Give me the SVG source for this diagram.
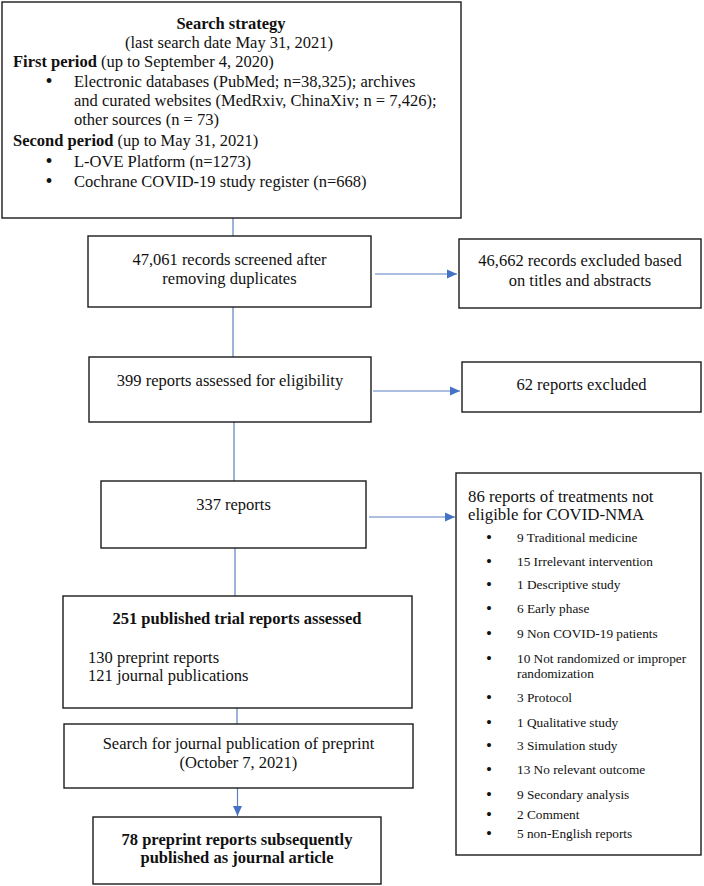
<svg xmlns="http://www.w3.org/2000/svg" width="704" height="886" viewBox="0 0 704 886">
<style>
.box{fill:#fff;stroke:#1a1a1a;stroke-width:1.4}
.t{font-family:"Liberation Serif","Times New Roman",serif;font-size:16.5px;fill:#111}
.b{font-weight:bold}
.c{text-anchor:middle}
.s{font-size:13.3px}
.h{font-size:16.8px}
.bu{font-family:"Liberation Serif","Times New Roman",serif;font-size:20px;fill:#111;text-anchor:middle}
.bs{font-family:"Liberation Serif","Times New Roman",serif;font-size:17px;fill:#111;text-anchor:middle}
.ln{stroke:#5a80c4;stroke-width:1.2;fill:none}
</style>
<defs>
<marker id="ah" markerUnits="userSpaceOnUse" markerWidth="11" markerHeight="10" refX="10" refY="5" orient="auto">
<path d="M0,0.5 L10,5 L0,9.5 z" fill="#4472c4"/>
</marker>
</defs>
<rect width="704" height="886" fill="#fff"/>
<g id="connectors">
<line class="ln" x1="233" y1="218" x2="233" y2="236"/>
<line class="ln" x1="233" y1="307" x2="233" y2="357"/>
<line class="ln" x1="234" y1="422" x2="234" y2="481"/>
<line class="ln" x1="235" y1="548" x2="235" y2="596"/>
<line class="ln" x1="237" y1="708" x2="237" y2="724"/>
<line class="ln" x1="237.5" y1="788" x2="237.5" y2="816" marker-end="url(#ah)"/>
<line class="ln" x1="375" y1="274" x2="457" y2="274" marker-end="url(#ah)"/>
<line class="ln" x1="373" y1="391" x2="460" y2="391" marker-end="url(#ah)"/>
<line class="ln" x1="369" y1="517" x2="455" y2="517" marker-end="url(#ah)"/>
</g>
<g id="search">
<rect class="box" x="2" y="2" width="459" height="216"/>
<text class="t b c" x="231" y="29">Search strategy</text>
<text class="t c" x="229" y="48">(last search date May 31, 2021)</text>
<text class="t" x="13" y="67"><tspan font-weight="bold">First period</tspan> (up to September 4, 2020)</text>
<text class="bu" x="49" y="88">•</text>
<text class="t" x="74" y="87">Electronic databases (PubMed; n=38,325); archives</text>
<text class="t" x="74" y="106">and curated websites (MedRxiv, ChinaXiv; n = 7,426);</text>
<text class="t" x="74" y="125">other sources (n = 73)</text>
<text class="t" x="13" y="146"><tspan font-weight="bold">Second period</tspan> (up to May 31, 2021)</text>
<text class="bu" x="49" y="168">•</text>
<text class="t" x="74" y="167">L-OVE Platform (n=1273)</text>
<text class="bu" x="49" y="188">•</text>
<text class="t" x="74" y="187">Cochrane COVID-19 study register (n=668)</text>
</g>
<g id="screened">
<rect class="box" x="88" y="236" width="283" height="71"/>
<text class="t c" x="229.5" y="265">47,061 records screened after</text>
<text class="t c" x="229.5" y="284">removing duplicates</text>
</g>
<g id="excluded1">
<rect class="box" x="459" y="239" width="242" height="69"/>
<text class="t c" x="580" y="266">46,662 records excluded based</text>
<text class="t c" x="580" y="286">on titles and abstracts</text>
</g>
<g id="assessed">
<rect class="box" x="89" y="357" width="282" height="65"/>
<text class="t c" x="230" y="386">399 reports assessed for eligibility</text>
</g>
<g id="excluded2">
<rect class="box" x="462" y="362" width="239" height="50"/>
<text class="t c" x="581.5" y="390">62 reports excluded</text>
</g>
<g id="reports337">
<rect class="box" x="101" y="481" width="265" height="67"/>
<text class="t c" x="233.5" y="510">337 reports</text>
</g>
<g id="noteligible">
<rect class="box" x="456" y="473" width="245" height="382"/>
<text class="t h" x="468" y="502">86 reports of treatments not</text>
<text class="t h" x="468" y="520">eligible for COVID-NMA</text>
<g class="bs">
<text x="489" y="543">•</text>
<text x="489" y="567">•</text>
<text x="489" y="590">•</text>
<text x="489" y="614">•</text>
<text x="489" y="639">•</text>
<text x="489" y="664">•</text>
<text x="489" y="703">•</text>
<text x="489" y="728">•</text>
<text x="489" y="751">•</text>
<text x="489" y="775">•</text>
<text x="489" y="800">•</text>
<text x="489" y="820">•</text>
<text x="489" y="839">•</text>
</g>
<g class="t s">
<text x="517" y="542">9 Traditional medicine</text>
<text x="517" y="566">15 Irrelevant intervention</text>
<text x="517" y="589">1 Descriptive study</text>
<text x="517" y="613">6 Early phase</text>
<text x="517" y="638">9 Non COVID-19 patients</text>
<text x="517" y="663">10 Not randomized or improper</text>
<text x="517" y="678">randomization</text>
<text x="517" y="702">3 Protocol</text>
<text x="517" y="727">1 Qualitative study</text>
<text x="517" y="750">3 Simulation study</text>
<text x="517" y="774">13 No relevant outcome</text>
<text x="517" y="799">9 Secondary analysis</text>
<text x="517" y="819">2 Comment</text>
<text x="517" y="838">5 non-English reports</text>
</g>
</g>
<g id="published">
<rect class="box" x="63" y="596" width="349" height="112"/>
<text class="t b c" x="237" y="624">251 published trial reports assessed</text>
<text class="t" x="88" y="663">130 preprint reports</text>
<text class="t" x="88" y="681">121 journal publications</text>
</g>
<g id="searchjournal">
<rect class="box" x="64" y="724" width="349" height="64"/>
<text class="t c" x="238.5" y="749">Search for journal publication of preprint</text>
<text class="t c" x="238.5" y="768">(October 7, 2021)</text>
</g>
<g id="final">
<rect class="box" x="93" y="817" width="288" height="67"/>
<text class="t b c" x="237" y="845">78 preprint reports subsequently</text>
<text class="t b c" x="237" y="863">published as journal article</text>
</g>
</svg>
